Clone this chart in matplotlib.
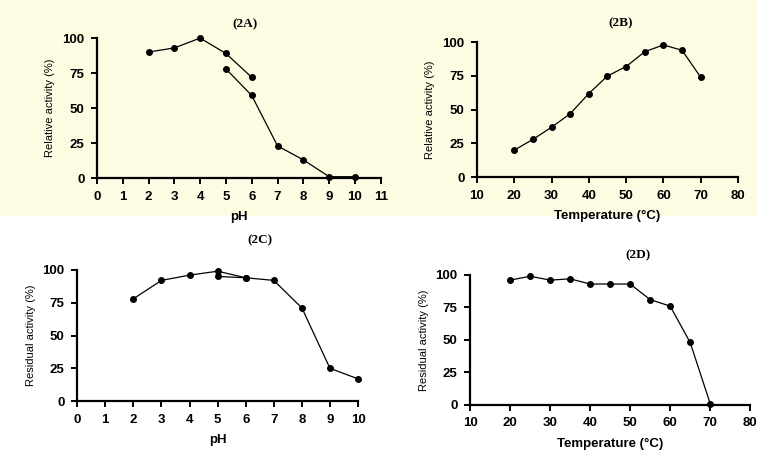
import numpy as np
import matplotlib.pyplot as plt
from matplotlib.patches import Rectangle

# (2A) pH activity, two buffers
ph_a1 = [2, 3, 4, 5, 6]
act_a1 = [90, 93, 100, 89, 72]
ph_a2 = [5, 6, 7, 8, 9, 10]
act_a2 = [78, 59, 23, 13, 1, 1]

# (2B) temperature activity
temp_b = [20, 25, 30, 35, 40, 45, 50, 55, 60, 65, 70]
act_b = [20, 28, 37, 47, 62, 75, 82, 93, 98, 94, 74]

# (2C) pH stability
ph_c1 = [2, 3, 4, 5, 6]
res_c1 = [78, 92, 96, 99, 94]
ph_c2 = [5, 6, 7, 8, 9, 10]
res_c2 = [95, 94, 92, 71, 25, 17]

# (2D) temperature stability
temp_d = [20, 25, 30, 35, 40, 45, 50, 55, 60, 65, 70]
res_d = [96, 99, 96, 97, 93, 93, 93, 81, 76, 48, 1]

plt.rcParams['font.family'] = ['Liberation Sans', 'DejaVu Sans']

fig = plt.figure(figsize=(7.57, 4.59), dpi=100)
fig.patch.set_facecolor('white')
# pale scan background on the upper half
fig.patches.append(Rectangle((0, 0.53), 1, 0.47, transform=fig.transFigure,
                             facecolor='#fdfbe2', edgecolor='none', zorder=-10))


def style(ax, xlim, xticks, ylabel, xlabel, title, tx, ty):
    ax.set_facecolor('none')
    ax.set_xlim(*xlim)
    ax.set_ylim(0, 100)
    ax.set_xticks(xticks)
    ax.set_yticks([0, 25, 50, 75, 100])
    for s in ['top', 'right']:
        ax.spines[s].set_visible(False)
    for s in ['left', 'bottom']:
        ax.spines[s].set_linewidth(1.6)
    ax.tick_params(direction='out', length=4, width=1.4, labelsize=9.5, pad=5)
    for lab in ax.get_xticklabels() + ax.get_yticklabels():
        lab.set_fontweight('bold')
    ax.set_ylabel(ylabel, fontsize=8, labelpad=5)
    ax.set_xlabel(xlabel, fontsize=9.5, fontweight='bold', labelpad=6)
    ax.text(tx, ty, title, transform=ax.transAxes, ha='center', fontsize=9.5,
            fontweight='bold', family='Liberation Serif')


kw = dict(color='black', lw=0.9, marker='o', ms=4, clip_on=False)

axA = fig.add_axes([0.128, 0.612, 0.375, 0.305])
axA.plot(ph_a1, act_a1, **kw)
axA.plot(ph_a2, act_a2, **kw)
style(axA, (0, 11), range(0, 12), 'Relative activity (%)', 'pH', '(2A)', 0.52, 1.08)

axB = fig.add_axes([0.630, 0.614, 0.345, 0.294])
axB.plot(temp_b, act_b, **kw)
style(axB, (10, 80), range(10, 81, 10), 'Relative activity (%)', 'Temperature (°C)', '(2B)', 0.55, 1.12)

axC = fig.add_axes([0.102, 0.126, 0.371, 0.286])
axC.plot(ph_c1, res_c1, **kw)
axC.plot(ph_c2, res_c2, **kw)
style(axC, (0, 10), range(0, 11), 'Residual activity (%)', 'pH', '(2C)', 0.65, 1.2)

axD = fig.add_axes([0.621, 0.118, 0.370, 0.283])
axD.plot(temp_d, res_d, **kw)
style(axD, (10, 80), range(10, 81, 10), 'Residual activity (%)', 'Temperature (°C)', '(2D)', 0.6, 1.13)

fig.savefig('out.png', dpi=100)
